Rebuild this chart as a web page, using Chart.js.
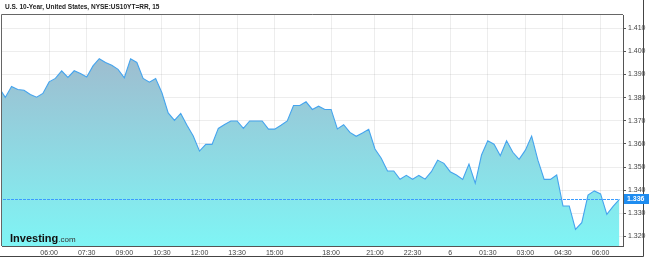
<!DOCTYPE html>
<html>
<head>
<meta charset="utf-8">
<script src="https://cdn.jsdelivr.net/npm/chart.js@4.4.1/dist/chart.umd.min.js"></script>
<style>
  html, body { margin: 0; padding: 0; background: #fff; }
  #wrap { width: 649px; height: 260px; }
</style>
</head>
<body>
<div id="wrap"><canvas id="yieldChart" width="649" height="260"></canvas></div>
<script>
// 15-minute closes, one per bar
const yields = [
  1.3843, 1.3801, 1.3848, 1.3835, 1.3832, 1.3814, 1.3802, 1.3818, 1.3868, 1.3883,
  1.3916, 1.3887, 1.3916, 1.3904, 1.3889, 1.3937, 1.3968, 1.3952, 1.3940, 1.3922,
  1.3886, 1.3968, 1.3952, 1.3883, 1.3867, 1.3883, 1.3821, 1.3734, 1.3702, 1.3732,
  1.3681, 1.3634, 1.3569, 1.3598, 1.3598, 1.3667, 1.3684, 1.3699, 1.3699, 1.3667,
  1.3699, 1.3699, 1.3699, 1.3664, 1.3664, 1.3681, 1.3699, 1.3766, 1.3766, 1.3782,
  1.3749, 1.3763, 1.3749, 1.3749, 1.3665, 1.3683, 1.3650, 1.3633, 1.3647, 1.3663,
  1.3578, 1.3538, 1.3483, 1.3483, 1.3447, 1.3464, 1.3447, 1.3464, 1.3448, 1.3480,
  1.3530, 1.3516, 1.3480, 1.3466, 1.3447, 1.3513, 1.3430, 1.3552, 1.3614, 1.3599,
  1.3549, 1.3614, 1.3564, 1.3533, 1.3573, 1.3634, 1.3530, 1.3447, 1.3447, 1.3466,
  1.3332, 1.3332, 1.3231, 1.3260, 1.3379, 1.3397, 1.3384, 1.3296, 1.3330, 1.3360
];
const lastPrice = 1.336;

// time labels and the bar they sit on
const timeTicks = [8, 14, 20, 26, 32, 38, 44, 53, 60, 66, 72, 78, 84, 90, 96];
const timeLabels = ['06:00', '07:30', '09:00', '10:30', '12:00', '13:30', '15:00',
  '18:00', '21:00', '22:30', '6', '01:30', '03:00', '04:30', '06:00'];
const priceTicks = [1.32, 1.33, 1.34, 1.35, 1.36, 1.37, 1.38, 1.39, 1.40, 1.41];

const font = '"Liberation Sans", Arial, sans-serif';

const points = yields.map((v, i) => ({ x: i, y: v }));
const lastLine = [{ x: 0, y: lastPrice }, { x: yields.length - 1, y: lastPrice }];

function areaFill(ctx) {
  const area = ctx.chart.chartArea;
  if (!area) return 'rgba(128,244,244,1)';
  const g = ctx.chart.ctx.createLinearGradient(0, area.top, 0, area.bottom);
  g.addColorStop(0, '#a5b0c6');
  g.addColorStop(0.45, '#94cfdc');
  g.addColorStop(1, '#7ff5f5');
  return g;
}

// frame, title, logo and last-price tag
const decor = {
  id: 'decor',
  afterDraw(chart) {
    const c = chart.ctx;
    const a = chart.chartArea;
    c.save();
    c.strokeStyle = '#666';
    c.lineWidth = 1;
    c.beginPath();
    c.moveTo(a.left - 0.5, a.bottom);
    c.lineTo(a.left - 0.5, a.top - 0.5);
    c.lineTo(a.right, a.top - 0.5);
    c.stroke();
    c.strokeStyle = '#444';
    c.beginPath();
    c.moveTo(0, 256.5);
    c.lineTo(643.5, 256.5);
    c.lineTo(643.5, 0);
    c.stroke();

    c.fillStyle = '#222';
    c.font = 'bold 6.5px ' + font;
    c.textBaseline = 'middle';
    c.fillText('U.S. 10-Year, United States, NYSE:US10YT=RR, 15', 5, 7);

    c.textBaseline = 'alphabetic';
    c.fillStyle = '#111';
    c.font = 'bold 11px ' + font;
    c.fillText('Investing', 10, 242);
    const w = c.measureText('Investing').width;
    c.font = '8px ' + font;
    c.fillStyle = '#333';
    c.fillText('.com', 10 + w, 242);

    const y = Math.round(chart.scales.y.getPixelForValue(lastPrice));
    c.fillStyle = '#1e8cf0';
    c.fillRect(a.right + 1, y - 5, 25, 10);
    c.fillStyle = '#fff';
    c.font = 'bold 7px ' + font;
    c.textBaseline = 'middle';
    c.fillText(lastPrice.toFixed(3), a.right + 4, y);
    c.restore();
  }
};

new Chart(document.getElementById('yieldChart'), {
  type: 'line',
  data: {
    datasets: [
      {
        data: lastLine,
        borderColor: '#3b9cff',
        borderWidth: 1.2,
        borderDash: [3, 1],
        pointRadius: 0,
        fill: false,
        order: 0
      },
      {
        data: points,
        borderColor: '#45a4ee',
        borderWidth: 1.1,
        backgroundColor: areaFill,
        fill: 'start',
        pointRadius: 0,
        tension: 0,
        clip: 0,
        order: 1
      }
    ]
  },
  options: {
    responsive: false,
    animation: false,
    layout: { padding: { top: 15, left: 2, right: 0, bottom: 0 } },
    plugins: { legend: { display: false }, tooltip: { enabled: false } },
    scales: {
      x: {
        type: 'linear',
        min: 0.48,
        max: 99.58,
        z: 1,
        afterBuildTicks: s => { s.ticks = timeTicks.map(v => ({ value: v })); },
        afterFit: s => { s.height = 14; },
        grid: { color: 'rgba(0,0,0,0.07)', drawTicks: false },
        border: { color: '#555', width: 1 },
        ticks: {
          padding: 3,
          maxRotation: 0,
          autoSkip: false,
          color: '#444',
          font: { family: font, size: 7 },
          callback: (v, i) => timeLabels[i]
        }
      },
      y: {
        position: 'right',
        min: 1.3159,
        max: 1.4157,
        z: 1,
        afterBuildTicks: s => { s.ticks = priceTicks.map(v => ({ value: v })); },
        afterFit: s => { s.width = 26; },
        grid: { color: 'rgba(0,0,0,0.07)', tickLength: 3, tickColor: '#555' },
        border: { color: '#555', width: 1 },
        ticks: {
          padding: 2,
          color: '#444',
          font: { family: font, size: 7 },
          callback: v => v.toFixed(3)
        }
      }
    }
  },
  plugins: [decor]
});
</script>
</body>
</html>
